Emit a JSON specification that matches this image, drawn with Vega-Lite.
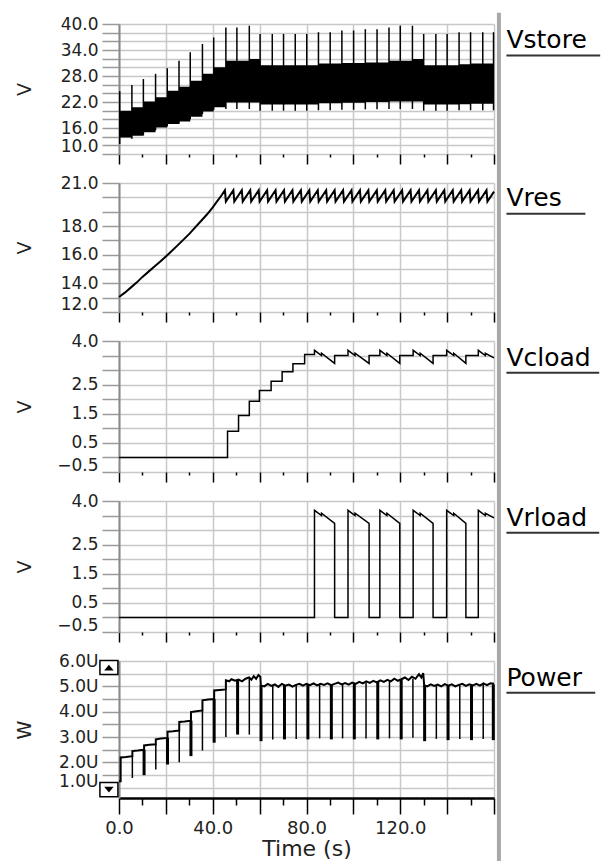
{
  "$schema": "https://vega.github.io/schema/vega-lite/v6.json",
  "background": "white",
  "padding": {"left": 15, "top": 10, "right": 0, "bottom": 0},
  "bounds": "flush",
  "spacing": 29,
  "config": {
    "view": {"stroke": null},
    "font": "DejaVu Sans",
    "axis": {"labelFont": "DejaVu Sans", "titleFont": "DejaVu Sans", "labelColor": "#222", "titleColor": "#222", "gridColor": "#c8c8c8", "gridWidth": 1.5, "labelFontSize": 17, "titleFontWeight": "normal", "labelOverlap": false}
  },
  "datasets": {
    "vstore_band": [
      {"t": 0, "lo": 13.8, "hi": 20.0}, {"t": 5.5, "lo": 14.2, "hi": 20.8}, {"t": 10.4, "lo": 15.0, "hi": 22.1},
      {"t": 15.6, "lo": 16.1, "hi": 23.1}, {"t": 20.6, "lo": 16.9, "hi": 24.6}, {"t": 25.6, "lo": 17.5, "hi": 25.5},
      {"t": 30.4, "lo": 18.6, "hi": 26.9}, {"t": 35.6, "lo": 19.8, "hi": 28.5}, {"t": 40.4, "lo": 20.8, "hi": 30.0},
      {"t": 45.6, "lo": 21.9, "hi": 31.5}, {"t": 55.6, "lo": 21.9, "hi": 31.9}, {"t": 60.2, "lo": 21.4, "hi": 30.5},
      {"t": 85.1, "lo": 21.7, "hi": 30.9}, {"t": 95.1, "lo": 21.8, "hi": 31.0}, {"t": 105.1, "lo": 22.0, "hi": 31.1},
      {"t": 115.2, "lo": 22.1, "hi": 31.5}, {"t": 125.2, "lo": 22.1, "hi": 31.9}, {"t": 130.0, "lo": 21.4, "hi": 30.5},
      {"t": 145.1, "lo": 21.5, "hi": 30.7}, {"t": 150.0, "lo": 21.6, "hi": 30.9}, {"t": 160, "lo": 21.6, "hi": 30.9}
    ],
    "vstore_spikes": [
      {"t": 0.3, "lo": 12.3, "hi": 24.5}, {"t": 5.5, "lo": 13.5, "hi": 25.9}, {"t": 10.4, "lo": 14.3, "hi": 27.3},
      {"t": 15.6, "lo": 15.5, "hi": 28.5}, {"t": 20.6, "lo": 16.4, "hi": 29.8}, {"t": 25.6, "lo": 17.0, "hi": 31.5},
      {"t": 30.4, "lo": 18.0, "hi": 33.5}, {"t": 35.6, "lo": 19.2, "hi": 35.4}, {"t": 40.4, "lo": 20.2, "hi": 36.9},
      {"t": 45.6, "lo": 20.4, "hi": 39.2}, {"t": 50.3, "lo": 20.4, "hi": 39.2}, {"t": 55.6, "lo": 20.4, "hi": 39.6},
      {"t": 60.2, "lo": 20.0, "hi": 37.7}, {"t": 65.4, "lo": 20.0, "hi": 37.7}, {"t": 70.2, "lo": 20.0, "hi": 37.7},
      {"t": 75.2, "lo": 20.0, "hi": 37.7}, {"t": 80.1, "lo": 20.0, "hi": 37.7}, {"t": 85.1, "lo": 20.1, "hi": 38.1},
      {"t": 90.1, "lo": 20.1, "hi": 38.1}, {"t": 95.1, "lo": 20.2, "hi": 38.5}, {"t": 100.1, "lo": 20.2, "hi": 38.5},
      {"t": 105.1, "lo": 20.3, "hi": 38.8}, {"t": 110.1, "lo": 20.3, "hi": 38.8}, {"t": 115.2, "lo": 20.4, "hi": 39.2},
      {"t": 120.0, "lo": 20.4, "hi": 39.6}, {"t": 125.2, "lo": 20.4, "hi": 39.6}, {"t": 130.0, "lo": 20.0, "hi": 37.7},
      {"t": 135.2, "lo": 20.0, "hi": 37.7}, {"t": 140.0, "lo": 20.0, "hi": 37.7}, {"t": 145.1, "lo": 20.1, "hi": 38.1},
      {"t": 150.0, "lo": 20.1, "hi": 38.1}, {"t": 155.2, "lo": 20.1, "hi": 38.1}, {"t": 159.8, "lo": 20.1, "hi": 38.1}
    ],
    "vres": [
      {"t": 0, "v": 13.05}, {"t": 2.5, "v": 13.35}, {"t": 5, "v": 13.7}, {"t": 7.5, "v": 14.05}, {"t": 10, "v": 14.45},
      {"t": 12.5, "v": 14.8}, {"t": 15, "v": 15.15}, {"t": 17.5, "v": 15.5}, {"t": 20, "v": 15.87}, {"t": 22.5, "v": 16.25},
      {"t": 25, "v": 16.65}, {"t": 27.5, "v": 17.05}, {"t": 30, "v": 17.45}, {"t": 32.5, "v": 17.9}, {"t": 35, "v": 18.35},
      {"t": 37.5, "v": 18.8}, {"t": 40, "v": 19.3}, {"t": 42, "v": 19.75}, {"t": 44, "v": 20.2}, {"t": 45.2, "v": 20.5},
      {"t": 45.6, "v": 19.7}, {"t": 48.8, "v": 20.5}, {"t": 49.2, "v": 19.7}, {"t": 52.4, "v": 20.5}, {"t": 52.8, "v": 19.7},
      {"t": 56.0, "v": 20.5}, {"t": 56.4, "v": 19.7}, {"t": 59.6, "v": 20.5}, {"t": 60.0, "v": 19.7}, {"t": 63.2, "v": 20.5},
      {"t": 63.6, "v": 19.7}, {"t": 66.8, "v": 20.5}, {"t": 67.2, "v": 19.7}, {"t": 70.4, "v": 20.5}, {"t": 70.8, "v": 19.7},
      {"t": 74.0, "v": 20.5}, {"t": 74.4, "v": 19.7}, {"t": 77.6, "v": 20.5}, {"t": 78.0, "v": 19.7}, {"t": 81.2, "v": 20.5},
      {"t": 81.6, "v": 19.7}, {"t": 84.8, "v": 20.5}, {"t": 85.2, "v": 19.7}, {"t": 88.4, "v": 20.5}, {"t": 88.8, "v": 19.7},
      {"t": 92.0, "v": 20.5}, {"t": 92.4, "v": 19.7}, {"t": 95.6, "v": 20.5}, {"t": 96.0, "v": 19.7}, {"t": 99.2, "v": 20.5},
      {"t": 99.6, "v": 19.7}, {"t": 102.8, "v": 20.5}, {"t": 103.2, "v": 19.7}, {"t": 106.4, "v": 20.5}, {"t": 106.8, "v": 19.7},
      {"t": 110.0, "v": 20.5}, {"t": 110.4, "v": 19.7}, {"t": 113.6, "v": 20.5}, {"t": 114.0, "v": 19.7}, {"t": 117.2, "v": 20.5},
      {"t": 117.6, "v": 19.7}, {"t": 120.8, "v": 20.5}, {"t": 121.2, "v": 19.7}, {"t": 124.4, "v": 20.5}, {"t": 124.8, "v": 19.7},
      {"t": 128.0, "v": 20.5}, {"t": 128.4, "v": 19.7}, {"t": 131.6, "v": 20.5}, {"t": 132.0, "v": 19.7}, {"t": 135.2, "v": 20.5},
      {"t": 135.6, "v": 19.7}, {"t": 138.8, "v": 20.5}, {"t": 139.2, "v": 19.7}, {"t": 142.4, "v": 20.5}, {"t": 142.8, "v": 19.7},
      {"t": 146.0, "v": 20.5}, {"t": 146.4, "v": 19.7}, {"t": 149.6, "v": 20.5}, {"t": 150.0, "v": 19.7}, {"t": 153.2, "v": 20.5},
      {"t": 153.6, "v": 19.7}, {"t": 156.8, "v": 20.5}, {"t": 157.2, "v": 19.7}, {"t": 160, "v": 20.4}
    ],
    "vcload": [
      {"t": 0, "v": 0}, {"t": 46.3, "v": 0}, {"t": 46.31, "v": 0.9}, {"t": 51.0, "v": 0.9}, {"t": 51.01, "v": 1.44},
      {"t": 55.6, "v": 1.44}, {"t": 55.61, "v": 1.93}, {"t": 59.9, "v": 1.93}, {"t": 59.91, "v": 2.3}, {"t": 64.9, "v": 2.3},
      {"t": 64.91, "v": 2.62}, {"t": 69.6, "v": 2.62}, {"t": 69.61, "v": 2.94}, {"t": 74.2, "v": 2.94}, {"t": 74.21, "v": 3.22},
      {"t": 79.2, "v": 3.22}, {"t": 79.21, "v": 3.54}, {"t": 83.4, "v": 3.54},
      {"t": 83.41, "v": 3.68}, {"t": 86.4, "v": 3.5}, {"t": 86.41, "v": 3.58}, {"t": 92.0, "v": 3.23}, {"t": 92.01, "v": 3.5}, {"t": 97.7, "v": 3.5},
      {"t": 97.71, "v": 3.68}, {"t": 100.7, "v": 3.5}, {"t": 100.71, "v": 3.58}, {"t": 106.7, "v": 3.23}, {"t": 106.71, "v": 3.5}, {"t": 111.3, "v": 3.5},
      {"t": 111.31, "v": 3.68}, {"t": 114.3, "v": 3.5}, {"t": 114.31, "v": 3.58}, {"t": 119.8, "v": 3.23}, {"t": 119.81, "v": 3.5}, {"t": 125.5, "v": 3.5},
      {"t": 125.51, "v": 3.68}, {"t": 128.5, "v": 3.5}, {"t": 128.51, "v": 3.58}, {"t": 134.0, "v": 3.23}, {"t": 134.01, "v": 3.5}, {"t": 139.8, "v": 3.5},
      {"t": 139.81, "v": 3.68}, {"t": 142.8, "v": 3.5}, {"t": 142.81, "v": 3.58}, {"t": 148.0, "v": 3.23}, {"t": 148.01, "v": 3.5}, {"t": 153.3, "v": 3.5},
      {"t": 153.31, "v": 3.68}, {"t": 156.3, "v": 3.5}, {"t": 156.31, "v": 3.58}, {"t": 160, "v": 3.42}
    ],
    "vrload": [
      {"t": 0, "v": 0}, {"t": 83.4, "v": 0},
      {"t": 83.41, "v": 3.68}, {"t": 86.4, "v": 3.5}, {"t": 86.41, "v": 3.58}, {"t": 92.0, "v": 3.23}, {"t": 92.01, "v": 0}, {"t": 97.7, "v": 0},
      {"t": 97.71, "v": 3.68}, {"t": 100.7, "v": 3.5}, {"t": 100.71, "v": 3.58}, {"t": 106.7, "v": 3.23}, {"t": 106.71, "v": 0}, {"t": 111.3, "v": 0},
      {"t": 111.31, "v": 3.68}, {"t": 114.3, "v": 3.5}, {"t": 114.31, "v": 3.58}, {"t": 119.8, "v": 3.23}, {"t": 119.81, "v": 0}, {"t": 125.5, "v": 0},
      {"t": 125.51, "v": 3.68}, {"t": 128.5, "v": 3.5}, {"t": 128.51, "v": 3.58}, {"t": 134.0, "v": 3.23}, {"t": 134.01, "v": 0}, {"t": 139.8, "v": 0},
      {"t": 139.81, "v": 3.68}, {"t": 142.8, "v": 3.5}, {"t": 142.81, "v": 3.58}, {"t": 148.0, "v": 3.23}, {"t": 148.01, "v": 0}, {"t": 153.3, "v": 0},
      {"t": 153.31, "v": 3.68}, {"t": 156.3, "v": 3.5}, {"t": 156.31, "v": 3.58}, {"t": 160, "v": 3.42}
    ],
    "power": [
      {"t": 0, "v": 1.26}, {"t": 0.7, "v": 1.26}, {"t": 0.71, "v": 2.2}, {"t": 3, "v": 2.22}, {"t": 5.7, "v": 2.25},
      {"t": 5.71, "v": 2.45}, {"t": 8, "v": 2.47}, {"t": 10.7, "v": 2.5}, {"t": 10.71, "v": 2.67}, {"t": 13, "v": 2.7},
      {"t": 15.7, "v": 2.72}, {"t": 15.71, "v": 2.91}, {"t": 18, "v": 2.95}, {"t": 20.7, "v": 2.97}, {"t": 20.71, "v": 3.21},
      {"t": 23, "v": 3.23}, {"t": 25.7, "v": 3.26}, {"t": 25.71, "v": 3.6}, {"t": 28, "v": 3.62}, {"t": 30.7, "v": 3.65},
      {"t": 30.71, "v": 3.99}, {"t": 33, "v": 4.02}, {"t": 35.6, "v": 4.05}, {"t": 35.61, "v": 4.45}, {"t": 38, "v": 4.48},
      {"t": 40.6, "v": 4.5}, {"t": 40.61, "v": 4.84}, {"t": 43, "v": 4.86}, {"t": 45.6, "v": 4.88}, {"t": 45.61, "v": 5.24},
      {"t": 47, "v": 5.2}, {"t": 48, "v": 5.28}, {"t": 49.5, "v": 5.22}, {"t": 51, "v": 5.27}, {"t": 52.5, "v": 5.2},
      {"t": 54, "v": 5.3}, {"t": 55.5, "v": 5.35}, {"t": 56.5, "v": 5.26}, {"t": 57.5, "v": 5.4}, {"t": 58.5, "v": 5.3},
      {"t": 59.5, "v": 5.45}, {"t": 60.3, "v": 5.38}, {"t": 60.5, "v": 5.04}, {"t": 62, "v": 5.0}, {"t": 63.5, "v": 5.1},
      {"t": 65, "v": 5.02}, {"t": 66.5, "v": 5.08}, {"t": 68, "v": 4.98}, {"t": 69.5, "v": 5.1}, {"t": 71, "v": 5.03},
      {"t": 72.5, "v": 5.07}, {"t": 74, "v": 4.99}, {"t": 75.5, "v": 5.06}, {"t": 77, "v": 5.1}, {"t": 78.5, "v": 5.03},
      {"t": 80, "v": 5.1}, {"t": 81.5, "v": 5.05}, {"t": 83, "v": 5.12}, {"t": 84.5, "v": 5.04}, {"t": 86, "v": 5.1},
      {"t": 87.5, "v": 5.06}, {"t": 89, "v": 5.12}, {"t": 90.5, "v": 5.05}, {"t": 92, "v": 5.1}, {"t": 93.5, "v": 5.15},
      {"t": 95, "v": 5.08}, {"t": 96.5, "v": 5.13}, {"t": 98, "v": 5.07}, {"t": 99.5, "v": 5.15}, {"t": 101, "v": 5.1},
      {"t": 102.5, "v": 5.18}, {"t": 104, "v": 5.12}, {"t": 105.5, "v": 5.2}, {"t": 107, "v": 5.14}, {"t": 108.5, "v": 5.22},
      {"t": 110, "v": 5.16}, {"t": 111.5, "v": 5.24}, {"t": 113, "v": 5.18}, {"t": 114.5, "v": 5.26}, {"t": 116, "v": 5.2},
      {"t": 117.5, "v": 5.3}, {"t": 119, "v": 5.22}, {"t": 120.5, "v": 5.28}, {"t": 122, "v": 5.35}, {"t": 123.5, "v": 5.25},
      {"t": 125, "v": 5.38}, {"t": 126.5, "v": 5.3}, {"t": 128, "v": 5.48}, {"t": 129, "v": 5.35}, {"t": 129.8, "v": 5.52},
      {"t": 130.2, "v": 5.05}, {"t": 131.5, "v": 5.0}, {"t": 133, "v": 5.08}, {"t": 134.5, "v": 5.02}, {"t": 136, "v": 5.07},
      {"t": 137.5, "v": 5.0}, {"t": 139, "v": 5.09}, {"t": 140.5, "v": 5.03}, {"t": 142, "v": 5.08}, {"t": 143.5, "v": 5.0},
      {"t": 145, "v": 5.06}, {"t": 146.5, "v": 5.1}, {"t": 148, "v": 5.02}, {"t": 149.5, "v": 5.08}, {"t": 151, "v": 5.04},
      {"t": 152.5, "v": 5.1}, {"t": 154, "v": 5.03}, {"t": 155.5, "v": 5.12}, {"t": 157, "v": 5.05}, {"t": 158.5, "v": 5.12},
      {"t": 160, "v": 5.1}
    ],
    "power_spikes": [
      {"t": 5.7, "lo": 1.39, "hi": 2.25, "phase": "a"}, {"t": 10.7, "lo": 1.5, "hi": 2.5, "phase": "b"},
      {"t": 15.7, "lo": 1.72, "hi": 2.72, "phase": "a"}, {"t": 20.7, "lo": 1.92, "hi": 2.97, "phase": "b"},
      {"t": 25.7, "lo": 2.01, "hi": 3.26, "phase": "a"}, {"t": 30.7, "lo": 2.25, "hi": 3.65, "phase": "b"},
      {"t": 35.6, "lo": 2.47, "hi": 4.05, "phase": "a"}, {"t": 40.6, "lo": 2.78, "hi": 4.5, "phase": "b"},
      {"t": 45.6, "lo": 3.0, "hi": 4.88, "phase": "a"}, {"t": 50.6, "lo": 3.1, "hi": 5.25, "phase": "b"},
      {"t": 55.6, "lo": 3.1, "hi": 5.3, "phase": "a"}, {"t": 60.6, "lo": 2.84, "hi": 5.04, "phase": "b"},
      {"t": 65.6, "lo": 2.91, "hi": 5.04, "phase": "a"}, {"t": 70.6, "lo": 2.91, "hi": 5.05, "phase": "b"},
      {"t": 75.6, "lo": 2.93, "hi": 5.05, "phase": "a"}, {"t": 80.6, "lo": 2.91, "hi": 5.08, "phase": "b"},
      {"t": 85.6, "lo": 2.95, "hi": 5.08, "phase": "a"}, {"t": 90.6, "lo": 2.91, "hi": 5.08, "phase": "b"},
      {"t": 95.4, "lo": 2.95, "hi": 5.1, "phase": "a"}, {"t": 100.4, "lo": 2.91, "hi": 5.12, "phase": "b"},
      {"t": 105.4, "lo": 2.95, "hi": 5.15, "phase": "a"}, {"t": 110.4, "lo": 2.91, "hi": 5.18, "phase": "b"},
      {"t": 115.4, "lo": 2.95, "hi": 5.2, "phase": "a"}, {"t": 120.4, "lo": 2.91, "hi": 5.25, "phase": "b"},
      {"t": 125.4, "lo": 2.97, "hi": 5.3, "phase": "a"}, {"t": 130.4, "lo": 2.84, "hi": 5.05, "phase": "b"},
      {"t": 135.4, "lo": 2.93, "hi": 5.05, "phase": "a"}, {"t": 140.4, "lo": 2.88, "hi": 5.05, "phase": "b"},
      {"t": 145.4, "lo": 2.93, "hi": 5.05, "phase": "a"}, {"t": 150.4, "lo": 2.88, "hi": 5.05, "phase": "b"},
      {"t": 155.4, "lo": 2.93, "hi": 5.08, "phase": "a"}, {"t": 159.7, "lo": 2.88, "hi": 5.08, "phase": "b"}
    ]
  },
  "vconcat": [
    {
      "width": 375, "height": 130,
      "resolve": {"axis": {"x": "independent", "y": "independent"}},
      "layer": [
        {
          "data": {"name": "vstore_band"},
          "mark": {"type": "area", "interpolate": "step-after", "color": "black"},
          "encoding": {
            "x": {"field": "t", "type": "quantitative", "scale": {"domain": [0, 160], "nice": false, "zero": false},
              "axis": {"values": [0,10,20,30,40,50,60,70,80,90,100,110,120,130,140,150,160], "labels": false, "title": null, "domain": false, "tickColor": "black", "tickWidth": 1.5, "tickSize": {"condition": {"test": "datum.value % 20 === 0", "value": 10}, "value": 3}, "grid": true, "gridOpacity": {"condition": {"test": "datum.value % 20 === 0", "value": 1}, "value": 0}}},
            "y": {"field": "hi", "type": "quantitative", "scale": {"domain": [10, 40], "nice": false, "zero": false},
              "axis": {"values": [10,12,14,16,18,20,22,24,26,28,30,32,34,36,38,40], "labelExpr": "indexof([10,16,22,28,34,40], datum.value) >= 0 ? format(datum.value, '.1f') : ''", "labelOverlap": false, "labelOffset": {"condition": {"test": "datum.value === 10", "value": -8}, "value": 0}, "domainColor": "#8a8a8a", "domainWidth": 2, "ticks": true, "tickColor": "#9a9a9a", "tickSize": 17, "tickWidth": 1.5, "labelPadding": 4, "grid": true, "title": "V", "titleFontSize": 19, "titleAngle": -90, "titleX": -95, "titleY": 65, "titleAlign": "center", "titleBaseline": "middle"}},
            "y2": {"field": "lo"}
          }
        },
        {
          "data": {"name": "vstore_spikes"},
          "mark": {"type": "rule", "color": "black", "strokeWidth": 1.5},
          "encoding": {"x": {"field": "t", "type": "quantitative", "axis": null}, "y": {"field": "hi", "type": "quantitative", "axis": null}, "y2": {"field": "lo"}}
        },
        {
          "data": {"values": [{"label": "Vstore"}]},
          "mark": {"type": "text", "align": "left", "baseline": "alphabetic", "dy": 24, "fontSize": 25, "font": "DejaVu Sans", "color": "black"},
          "encoding": {"x": {"datum": 165.3, "axis": null}, "y": {"datum": 40, "axis": null}, "text": {"field": "label"}}
        },
        {
          "data": {"values": [{}]},
          "mark": {"type": "rule", "color": "#333", "strokeWidth": 2},
          "encoding": {"x": {"datum": 165.3, "axis": null}, "x2": {"datum": 205.3}, "y": {"datum": 32.73, "axis": null}}
        },
        {
          "data": {"values": [{}]},
          "mark": {"type": "rule", "color": "#a8a8a8", "strokeWidth": 4},
          "encoding": {"x": {"datum": 162.1, "axis": null}, "y": {"datum": 42.6, "axis": null}, "y2": {"datum": 6.6}}
        }
      ]
    },
    {
      "width": 375, "height": 129,
      "resolve": {"axis": {"x": "independent", "y": "independent"}},
      "layer": [
        {
          "data": {"name": "vres"},
          "mark": {"type": "line", "color": "black", "strokeWidth": 2},
          "encoding": {
            "x": {"field": "t", "type": "quantitative", "scale": {"domain": [0, 160], "nice": false, "zero": false},
              "axis": {"values": [0,10,20,30,40,50,60,70,80,90,100,110,120,130,140,150,160], "labels": false, "title": null, "domain": false, "tickColor": "black", "tickWidth": 1.5, "tickSize": {"condition": {"test": "datum.value % 20 === 0", "value": 10}, "value": 3}, "grid": true, "gridOpacity": {"condition": {"test": "datum.value % 20 === 0", "value": 1}, "value": 0}}},
            "y": {"field": "v", "type": "quantitative", "scale": {"domain": [12, 21], "nice": false, "zero": false},
              "axis": {"values": [12,13,14,15,16,17,18,19,20,21], "labelExpr": "indexof([12,14,16,18,21], datum.value) >= 0 ? format(datum.value, '.1f') : ''", "labelOverlap": false, "labelOffset": {"condition": {"test": "datum.value === 12", "value": -8}, "value": 0}, "domainColor": "#8a8a8a", "domainWidth": 2, "ticks": true, "tickColor": "#9a9a9a", "tickSize": 17, "tickWidth": 1.5, "labelPadding": 4, "grid": true, "title": "V", "titleFontSize": 19, "titleAngle": -90, "titleX": -95, "titleY": 64.5, "titleAlign": "center", "titleBaseline": "middle"}}
          }
        },
        {
          "data": {"values": [{"label": "Vres"}]},
          "mark": {"type": "text", "align": "left", "baseline": "alphabetic", "dy": 23, "fontSize": 25, "font": "DejaVu Sans", "color": "black"},
          "encoding": {"x": {"datum": 165.3, "axis": null}, "y": {"datum": 21, "axis": null}, "text": {"field": "label"}}
        },
        {
          "data": {"values": [{}]},
          "mark": {"type": "rule", "color": "#333", "strokeWidth": 2},
          "encoding": {"x": {"datum": 165.3, "axis": null}, "x2": {"datum": 199}, "y": {"datum": 18.86, "axis": null}}
        },
        {
          "data": {"values": [{}]},
          "mark": {"type": "rule", "color": "#a8a8a8", "strokeWidth": 4},
          "encoding": {"x": {"datum": 162.1, "axis": null}, "y": {"datum": 22.1, "axis": null}, "y2": {"datum": 10.95}}
        }
      ]
    },
    {
      "width": 375, "height": 131,
      "resolve": {"axis": {"x": "independent", "y": "independent"}},
      "layer": [
        {
          "data": {"name": "vcload"},
          "mark": {"type": "line", "color": "black", "strokeWidth": 1.5},
          "encoding": {
            "x": {"field": "t", "type": "quantitative", "scale": {"domain": [0, 160], "nice": false, "zero": false},
              "axis": {"values": [0,10,20,30,40,50,60,70,80,90,100,110,120,130,140,150,160], "labels": false, "title": null, "domain": false, "tickColor": "black", "tickWidth": 1.5, "tickSize": {"condition": {"test": "datum.value % 20 === 0", "value": 10}, "value": 3}, "grid": true, "gridOpacity": {"condition": {"test": "datum.value % 20 === 0", "value": 1}, "value": 0}}},
            "y": {"field": "v", "type": "quantitative", "scale": {"domain": [-0.5, 4], "nice": false, "zero": false},
              "axis": {"values": [-0.5,0,0.5,1,1.5,2,2.5,3,3.5,4], "labelExpr": "indexof([-0.5,0.5,1.5,2.5,4], datum.value) >= 0 ? format(datum.value, '.1f') : ''", "labelOverlap": false, "labelOffset": {"condition": {"test": "datum.value === -0.5", "value": -7}, "value": 0}, "domainColor": "#8a8a8a", "domainWidth": 2, "ticks": true, "tickColor": "#9a9a9a", "tickSize": 17, "tickWidth": 1.5, "labelPadding": 4, "grid": true, "title": "V", "titleFontSize": 19, "titleAngle": -90, "titleX": -95, "titleY": 65.5, "titleAlign": "center", "titleBaseline": "middle"}}
          }
        },
        {
          "data": {"values": [{"label": "Vcload"}]},
          "mark": {"type": "text", "align": "left", "baseline": "alphabetic", "dy": 25, "fontSize": 25, "font": "DejaVu Sans", "color": "black"},
          "encoding": {"x": {"datum": 165.3, "axis": null}, "y": {"datum": 4, "axis": null}, "text": {"field": "label"}}
        },
        {
          "data": {"values": [{}]},
          "mark": {"type": "rule", "color": "#333", "strokeWidth": 2},
          "encoding": {"x": {"datum": 165.3, "axis": null}, "x2": {"datum": 204.9}, "y": {"datum": 2.91, "axis": null}}
        },
        {
          "data": {"values": [{}]},
          "mark": {"type": "rule", "color": "#a8a8a8", "strokeWidth": 4},
          "encoding": {"x": {"datum": 162.1, "axis": null}, "y": {"datum": 4.52, "axis": null}, "y2": {"datum": -1.02}}
        }
      ]
    },
    {
      "width": 375, "height": 131,
      "resolve": {"axis": {"x": "independent", "y": "independent"}},
      "layer": [
        {
          "data": {"name": "vrload"},
          "mark": {"type": "line", "color": "black", "strokeWidth": 1.5},
          "encoding": {
            "x": {"field": "t", "type": "quantitative", "scale": {"domain": [0, 160], "nice": false, "zero": false},
              "axis": {"values": [0,10,20,30,40,50,60,70,80,90,100,110,120,130,140,150,160], "labels": false, "title": null, "domain": false, "tickColor": "black", "tickWidth": 1.5, "tickSize": {"condition": {"test": "datum.value % 20 === 0", "value": 10}, "value": 3}, "grid": true, "gridOpacity": {"condition": {"test": "datum.value % 20 === 0", "value": 1}, "value": 0}}},
            "y": {"field": "v", "type": "quantitative", "scale": {"domain": [-0.5, 4], "nice": false, "zero": false},
              "axis": {"values": [-0.5,0,0.5,1,1.5,2,2.5,3,3.5,4], "labelExpr": "indexof([-0.5,0.5,1.5,2.5,4], datum.value) >= 0 ? format(datum.value, '.1f') : ''", "labelOverlap": false, "labelOffset": {"condition": {"test": "datum.value === -0.5", "value": -7}, "value": 0}, "domainColor": "#8a8a8a", "domainWidth": 2, "ticks": true, "tickColor": "#9a9a9a", "tickSize": 17, "tickWidth": 1.5, "labelPadding": 4, "grid": true, "title": "V", "titleFontSize": 19, "titleAngle": -90, "titleX": -95, "titleY": 65.5, "titleAlign": "center", "titleBaseline": "middle"}}
          }
        },
        {
          "data": {"values": [{"label": "Vrload"}]},
          "mark": {"type": "text", "align": "left", "baseline": "alphabetic", "dy": 25, "fontSize": 25, "font": "DejaVu Sans", "color": "black"},
          "encoding": {"x": {"datum": 165.3, "axis": null}, "y": {"datum": 4, "axis": null}, "text": {"field": "label"}}
        },
        {
          "data": {"values": [{}]},
          "mark": {"type": "rule", "color": "#333", "strokeWidth": 2},
          "encoding": {"x": {"datum": 165.3, "axis": null}, "x2": {"datum": 204.9}, "y": {"datum": 2.91, "axis": null}}
        },
        {
          "data": {"values": [{}]},
          "mark": {"type": "rule", "color": "#a8a8a8", "strokeWidth": 4},
          "encoding": {"x": {"datum": 162.1, "axis": null}, "y": {"datum": 4.52, "axis": null}, "y2": {"datum": -1.02}}
        }
      ]
    },
    {
      "width": 375, "height": 137,
      "resolve": {"axis": {"x": "independent", "y": "independent"}},
      "layer": [
        {
          "data": {"name": "power_spikes"},
          "mark": {"type": "rule", "color": "black"},
          "encoding": {
            "x": {"field": "t", "type": "quantitative", "scale": {"domain": [0, 160], "nice": false, "zero": false},
              "axis": {"values": [0,10,20,30,40,50,60,70,80,90,100,110,120,130,140,150,160], "labelExpr": "datum.value % 40 === 0 && datum.value < 160 ? format(datum.value, '.1f') : ''", "labelOverlap": false, "labelFlush": false, "labelFontSize": 18, "labelPadding": 5, "domain": true, "domainColor": "black", "domainWidth": 2.5, "tickColor": "black", "tickWidth": 1.5, "tickSize": {"condition": {"test": "datum.value % 20 === 0", "value": 16}, "value": 7}, "grid": true, "gridOpacity": {"condition": {"test": "datum.value % 20 === 0", "value": 1}, "value": 0}, "title": "Time (s)", "titleFontSize": 22, "titleY": 57.5, "titleBaseline": "alphabetic"}},
            "y": {"field": "hi", "type": "quantitative", "scale": {"domain": [0.6, 6], "nice": false, "zero": false},
              "axis": {"values": [1,1.5,2,2.5,3,3.5,4,4.5,5,5.5,6], "labelExpr": "datum.value % 1 === 0 ? format(datum.value, '.1f') + 'U' : ''", "labelOverlap": false, "labelOffset": {"condition": {"test": "datum.value === 1", "value": -6}, "value": 0}, "domainColor": "#8a8a8a", "domainWidth": 2, "ticks": true, "tickColor": "#9a9a9a", "tickSize": 17, "tickWidth": 1.5, "labelPadding": 4, "grid": true, "title": "W", "titleFontSize": 19, "titleAngle": -90, "titleX": -95, "titleY": 68.5, "titleAlign": "center", "titleBaseline": "middle"}},
            "y2": {"field": "lo"},
            "strokeWidth": {"field": "phase", "type": "ordinal", "scale": {"domain": ["a", "b"], "range": [1.5, 3]}, "legend": null}
          }
        },
        {
          "data": {"name": "power"},
          "mark": {"type": "line", "color": "black", "strokeWidth": 2},
          "encoding": {"x": {"field": "t", "type": "quantitative", "axis": null}, "y": {"field": "v", "type": "quantitative", "axis": null}}
        },
        {
          "data": {"values": [{"pos": 5.74}, {"pos": 0.93}]},
          "mark": {"type": "point", "shape": "M-1,-0.78H1V0.78H-1Z", "size": 324, "filled": true, "fill": "white", "stroke": "black", "strokeWidth": 1.5, "opacity": 1},
          "encoding": {"x": {"datum": -4.3, "axis": null}, "y": {"field": "pos", "type": "quantitative", "axis": null}}
        },
        {
          "data": {"values": [{"pos": 5.74, "dir": "up"}, {"pos": 0.93, "dir": "down"}]},
          "mark": {"type": "point", "filled": true, "color": "black", "size": 90, "opacity": 1},
          "encoding": {"x": {"datum": -4.3, "axis": null}, "y": {"field": "pos", "type": "quantitative", "axis": null},
            "shape": {"field": "dir", "type": "nominal", "scale": {"domain": ["up", "down"], "range": ["M-1,0.6L1,0.6L0,-0.6Z", "M-1,-0.6L1,-0.6L0,0.6Z"]}, "legend": null}}
        },
        {
          "data": {"values": [{"label": "Power"}]},
          "mark": {"type": "text", "align": "left", "baseline": "alphabetic", "dy": 25, "fontSize": 25, "font": "DejaVu Sans", "color": "black"},
          "encoding": {"x": {"datum": 165.3, "axis": null}, "y": {"datum": 6, "axis": null}, "text": {"field": "label"}}
        },
        {
          "data": {"values": [{}]},
          "mark": {"type": "rule", "color": "#333", "strokeWidth": 2},
          "encoding": {"x": {"datum": 165.3, "axis": null}, "x2": {"datum": 203.2}, "y": {"datum": 4.75, "axis": null}}
        },
        {
          "data": {"values": [{}]},
          "mark": {"type": "rule", "color": "#a8a8a8", "strokeWidth": 4},
          "encoding": {"x": {"datum": 162.1, "axis": null}, "y": {"datum": 6.58, "axis": null}, "y2": {"datum": -1.92}}
        }
      ]
    }
  ]
}
